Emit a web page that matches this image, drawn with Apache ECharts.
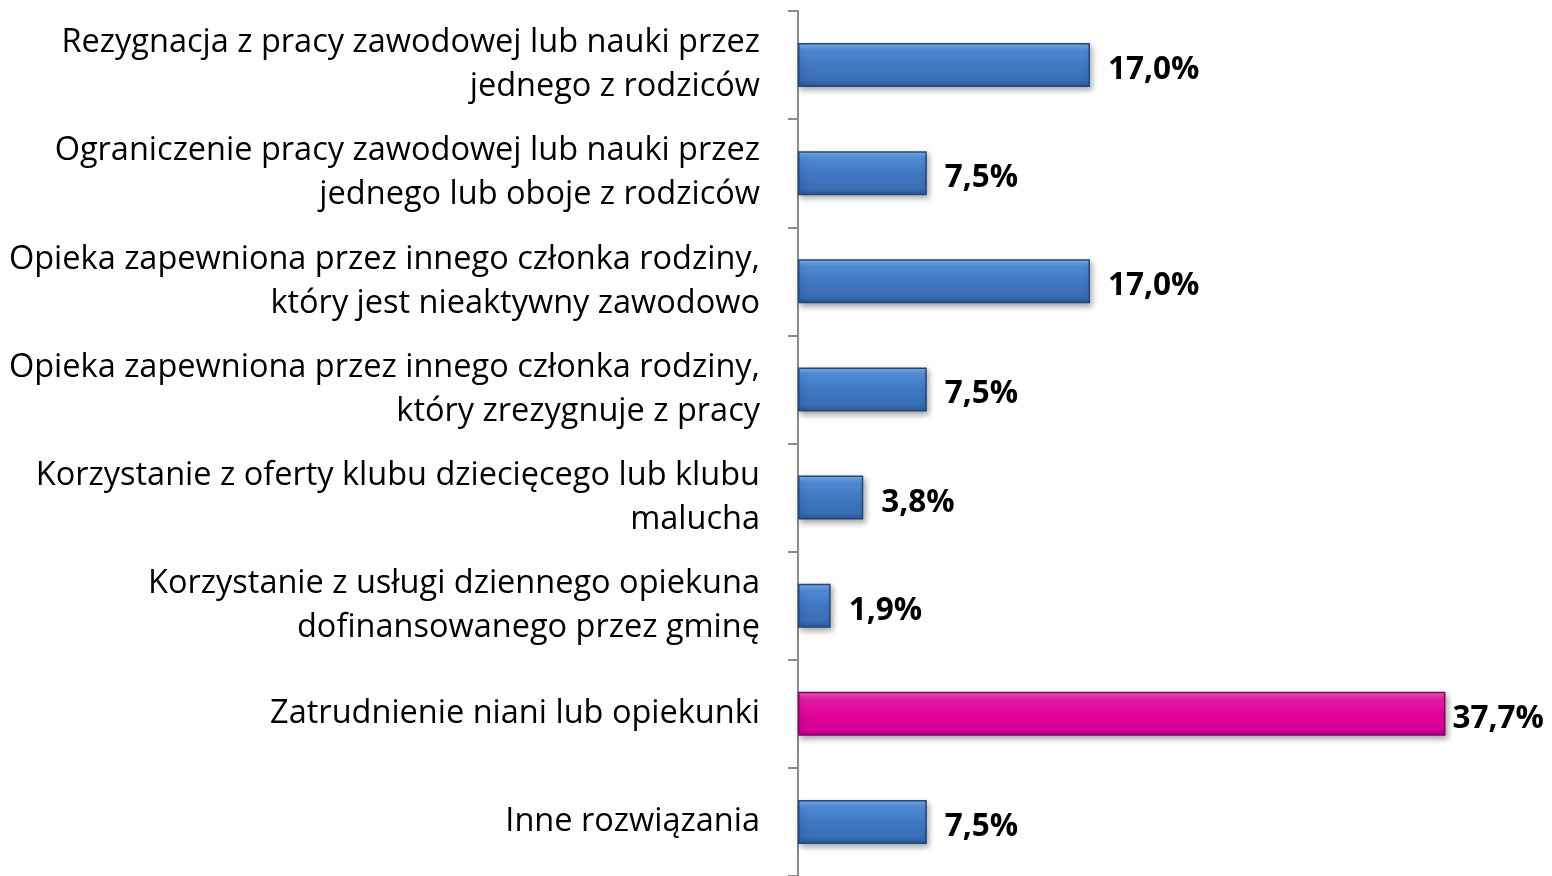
<!DOCTYPE html>
<html>
<head>
<meta charset="utf-8">
<script src="https://cdn.jsdelivr.net/npm/echarts@6/dist/echarts.min.js"></script>
<style>
html, body { margin: 0; padding: 0; background: #fff; }
#chart { width: 1552px; height: 876px; }
</style>
</head>
<body>
<div id="chart"></div>
<script>
const categories = [
    'Rezygnacja z pracy zawodowej lub nauki przez\njednego z rodziców',
    'Ograniczenie pracy zawodowej lub nauki przez\njednego lub oboje z rodziców',
    'Opieka zapewniona przez innego członka rodziny,\nktóry jest nieaktywny zawodowo',
    'Opieka zapewniona przez innego członka rodziny,\nktóry zrezygnuje z pracy',
    'Korzystanie z oferty klubu dziecięcego lub klubu\nmalucha',
    'Korzystanie z usługi dziennego opiekuna\ndofinansowanego przez gminę',
    'Zatrudnienie niani lub opiekunki',
    'Inne rozwiązania'
]
const values = [17.0, 7.5, 17.0, 7.5, 3.8, 1.9, 37.7, 7.5]
const highlightIndex = 6

const blueFill = new echarts.graphic.LinearGradient(0, 0, 0, 1, [
    { offset: 0, color: '#7fb6f0' },
    { offset: 0.18, color: '#4f8ad6' },
    { offset: 0.5, color: '#3f78c2' },
    { offset: 0.85, color: '#3a6fb5' },
    { offset: 1, color: '#2a5490' }
])
const pinkFill = new echarts.graphic.LinearGradient(0, 0, 0, 1, [
    { offset: 0, color: '#f560c0' },
    { offset: 0.18, color: '#e81aa6' },
    { offset: 0.5, color: '#e0049a' },
    { offset: 0.85, color: '#d8009a' },
    { offset: 1, color: '#a8007a' }
])

let chart = echarts.init(document.getElementById('chart'))
chart.setOption({
    animation: false,
    grid: {
        left: 798,
        top: 11,
        width: 687,
        bottom: -3
    },
    xAxis: {
        type: 'value',
        min: 0,
        max: 40,
        show: false
    },
    yAxis: {
        type: 'category',
        inverse: true,
        data: categories,
        axisLine: { show: true, lineStyle: { color: '#8c8c8c', width: 2 } },
        axisTick: { show: true, length: 10, lineStyle: { color: '#8c8c8c', width: 2 } },
        axisLabel: {
            margin: 38,
            align: 'right',
            fontFamily: 'Open Sans',
            fontSize: 32.5,
            lineHeight: 44,
            color: '#000'
        }
    },
    series: [
        {
            type: 'bar',
            barWidth: 44,
            data: values.map((v, i) => ({
                value: v,
                itemStyle: {
                    color: i === highlightIndex ? pinkFill : blueFill,
                    borderColor: i === highlightIndex ? '#8a0066' : '#1f487e',
                    borderWidth: 1.5
                },
                label: i === highlightIndex ? { distance: 7 } : undefined
            })),
            itemStyle: {
                shadowBlur: 6,
                shadowOffsetX: 2,
                shadowOffsetY: 3,
                shadowColor: 'rgba(0,0,0,0.35)'
            },
            label: {
                show: true,
                position: 'right',
                distance: 18,
                offset: [0, 5],
                fontFamily: 'Open Sans',
                fontWeight: 'bold',
                fontSize: 31.5,
                color: '#000',
                formatter: p => p.value.toFixed(1).replace('.', ',') + '%'
            }
        }
    ]
})
</script>
</body>
</html>
